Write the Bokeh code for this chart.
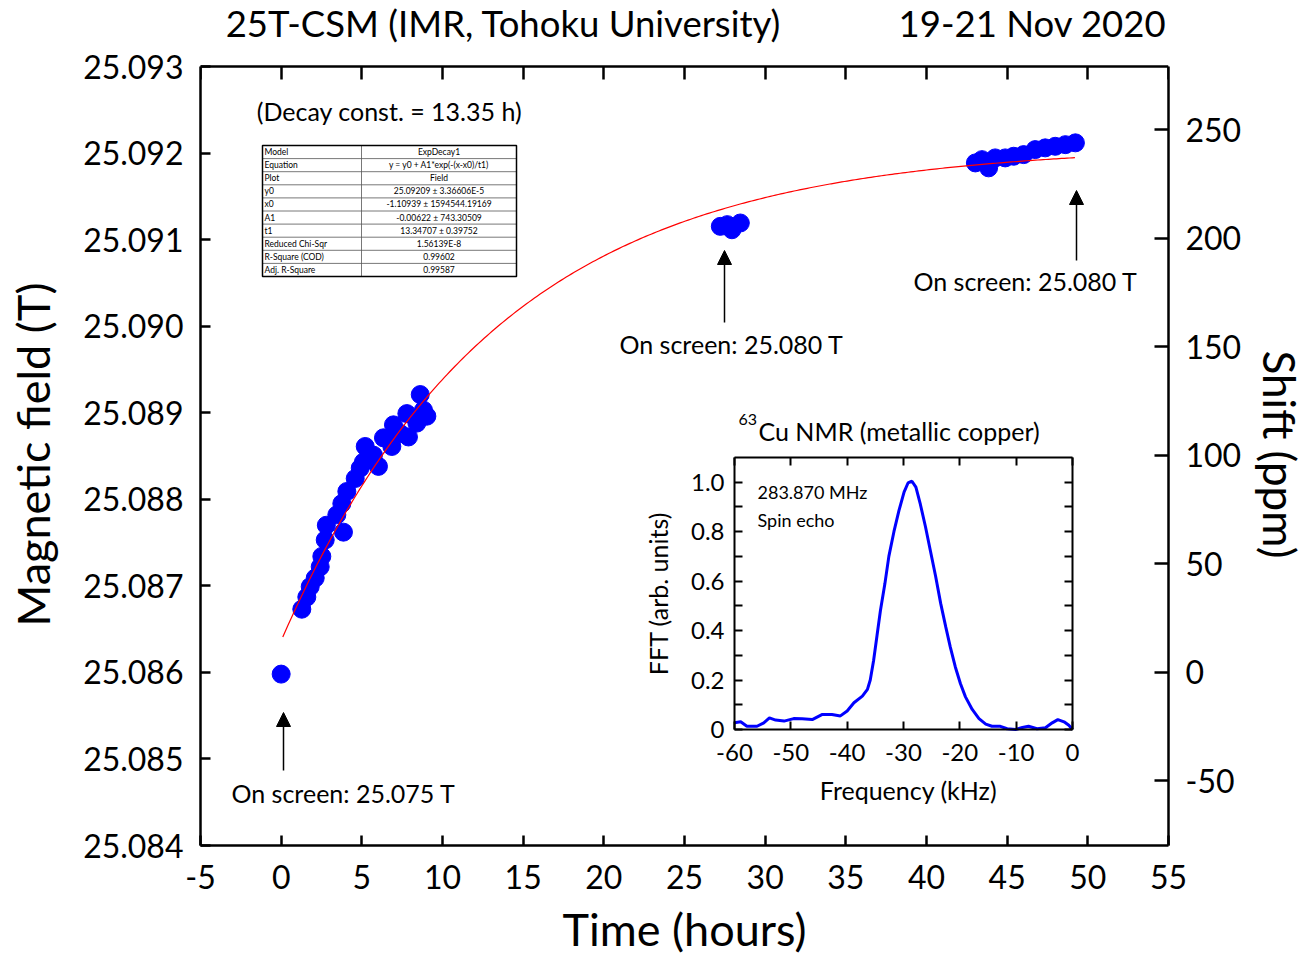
import numpy as np
from bokeh.plotting import figure
from bokeh.layouts import column
from bokeh.models import (Range1d, LinearAxis, FixedTicker, NumeralTickFormatter,
                          Label, Arrow, NormalHead, ColumnDataSource)
from bokeh.core.properties import value
from bokeh.embed import file_html
from bokeh.resources import INLINE

FONT = "Lato"

# ---------------- data ----------------
time_h = [0.0, 1.28, 1.59, 1.80, 2.11, 2.42, 2.52, 2.73, 2.80, 3.45, 3.76, 3.86, 4.07,
          4.59, 4.90, 5.10, 5.21, 5.72, 6.03, 6.34, 6.86, 6.96, 7.38, 7.79, 7.89, 8.41,
          8.62, 8.82, 9.03,
          27.22, 27.65, 27.94, 28.46,
          43.03, 43.44, 43.85, 44.26, 44.88, 45.40, 46.02, 46.74, 47.36, 47.98, 48.61, 49.23]
field_T = [25.08598, 25.08673, 25.08687, 25.08699, 25.08709, 25.08722, 25.08734, 25.08753,
           25.08770, 25.08782, 25.08795, 25.08762, 25.08809, 25.08824, 25.08836, 25.08843,
           25.08861, 25.08851, 25.08838, 25.08871, 25.08861, 25.08886, 25.08876, 25.08899,
           25.08872, 25.08888, 25.08921, 25.08903, 25.08896,
           25.091153, 25.091173, 25.091114, 25.091192,
           25.091886, 25.091924, 25.091829, 25.091944, 25.091944, 25.091963, 25.091982,
           25.092040, 25.092060, 25.092078, 25.092097, 25.092118]

# ExpDecay1 fit parameters (from the fit table)
fit_y0 = 25.09209
fit_x0 = -1.10939
fit_A1 = -0.00622
fit_t1 = 13.34707
fit_t = np.linspace(0.1, 49.2, 300)
fit_B = fit_y0 + fit_A1 * np.exp(-(fit_t - fit_x0) / fit_t1)

freq_khz = [-60.0, -58.9, -57.8, -56.0, -54.8, -53.8, -52.7, -51.2, -49.5, -48.0, -46.2,
            -44.4, -42.7, -41.2, -40.0, -38.8, -37.3, -36.4, -35.9, -35.3, -34.7, -34.1,
            -33.3, -32.6, -31.7, -30.8, -29.9, -29.2, -28.5, -27.8, -27.0, -26.1, -25.2,
            -24.3, -23.4, -22.5, -21.7, -20.8, -19.9, -19.0, -17.8, -16.6, -15.4, -14.3,
            -12.8, -11.6, -10.1, -8.9, -7.8, -6.3, -4.8, -3.6, -2.6, -1.5, -0.65, 0.0]
fft_amp = [0.027, 0.031, 0.013, 0.013, 0.027, 0.047, 0.038, 0.034, 0.044, 0.043, 0.040,
           0.061, 0.061, 0.055, 0.075, 0.108, 0.135, 0.162, 0.20, 0.28, 0.38, 0.48,
           0.59, 0.70, 0.80, 0.886, 0.96, 0.997, 1.004, 0.98, 0.91, 0.82, 0.72,
           0.62, 0.51, 0.415, 0.334, 0.253, 0.186, 0.132, 0.081, 0.044, 0.022, 0.013,
           0.013, 0.003, 0.0, 0.008, 0.013, 0.003, 0.007, 0.027, 0.040, 0.031, 0.017, 0.0]

x_ticks = [-5, 0, 5, 10, 15, 20, 25, 30, 35, 40, 45, 50, 55]
y_ticks = [25.084, 25.085, 25.086, 25.087, 25.088, 25.089, 25.090, 25.091, 25.092, 25.093]
ppm_ticks = [-50, 0, 50, 100, 150, 200, 250]
ppm_ref_T = 25.086
inset_x_ticks = [-60, -50, -40, -30, -20, -10, 0]
inset_y_ticks = [0, 0.2, 0.4, 0.6, 0.8, 1.0]
inset_y_labels = ["0", "0.2", "0.4", "0.6", "0.8", "1.0"]
inset_y_minor = [0.1, 0.3, 0.5, 0.7, 0.9]

title_text = "25T-CSM (IMR, Tohoku University)"
date_text = "19-21 Nov 2020"

table_rows = [("Model", "ExpDecay1"),
              ("Equation", "y = y0 + A1*exp(-(x-x0)/t1)"),
              ("Plot", "Field"),
              ("y0", "25.09209 \u00b1 3.36606E-5"),
              ("x0", "-1.10939 \u00b1 1594544.19169"),
              ("A1", "-0.00622 \u00b1 743.30509"),
              ("t1", "13.34707 \u00b1 0.39752"),
              ("Reduced Chi-Sqr", "1.56139E-8"),
              ("R-Square (COD)", "0.99602"),
              ("Adj. R-Square", "0.99587")]

# ---------------- layout constants (pixels) ----------------
BL, BR = 200, 141   # left / right borders
TOP_H = 45          # title strip height
TOP_B = 18          # main figure border above its frame
TOP_PAD = 3         # frame pixels above the top axis line
FW, FH = 968, 779   # axis box size
XMIN, XMAX = -5, 55
YMIN, YMAX = 25.084, 25.093
# inset box inside axis box (pixels from box left / bottom)
IL, IR, IB, IT = 534, 872, 116, 388
IXMIN, IXMAX, IYMIN, IYMAX = -60.0, 0.0, 0.0, 1.1


def ppm(b):
    return (b - ppm_ref_T) / ppm_ref_T * 1e6


def hy(t):
    return str(t)


ypad = TOP_PAD * (YMAX - YMIN) / FH
sx = (IR - IL) / (IXMAX - IXMIN)
sy = (IT - IB) / (IYMAX - IYMIN)

# ---------------- title strip (page pixel coordinates) ----------------
top = figure(frame_width=FW, frame_height=TOP_H,
             x_range=Range1d(BL, BL + FW), y_range=Range1d(TOP_H, 0),
             x_axis_location=None, y_axis_location=None, output_backend="svg",
             toolbar_location=None, min_border_left=BL, min_border_right=BR,
             min_border_top=0, min_border_bottom=0)
top.xgrid.visible = False
top.ygrid.visible = False
top.outline_line_color = None
top.add_layout(Label(x=503, y=22.5, text=title_text, text_font=FONT,
                     text_font_size="36.5px", text_align="center", text_baseline="middle",
                     text_color="black"))
top.add_layout(Label(x=1166, y=22.5, text=date_text, text_font=FONT,
                     text_font_size="36.5px", text_align="right", text_baseline="middle",
                     text_color="black"))

# ---------------- main plot ----------------
p = figure(frame_width=FW, frame_height=FH + TOP_PAD,
           x_range=Range1d(XMIN, XMAX), y_range=Range1d(YMIN, YMAX + ypad),
           x_axis_location=None, y_axis_location=None,
           output_backend="svg", toolbar_location=None,
           min_border_left=BL, min_border_right=BR, min_border_top=TOP_B,
           min_border_bottom=110)
p.extra_y_ranges = {"ppm": Range1d(ppm(YMIN), ppm(YMAX + ypad)),
                    "iy": Range1d(IYMIN - IB / sy, IYMAX + (FH + TOP_PAD - IT) / sy),
                    "fy": Range1d(0, FH + TOP_PAD)}
p.extra_x_ranges = {"ix": Range1d(IXMIN - IL / sx, IXMAX + (FW - IR) / sx),
                    "fx": Range1d(0, FW)}
p.xgrid.visible = False
p.ygrid.visible = False
p.outline_line_color = None
p.background_fill_color = "white"
p.border_fill_color = "white"


def style(ax, tick_in, lw=2.5, lab="32px", title="45px"):
    ax.axis_line_width = lw
    ax.axis_line_color = "black"
    ax.major_tick_line_width = lw
    ax.major_tick_line_color = "black"
    ax.major_tick_in = tick_in
    ax.major_tick_out = 0
    ax.minor_tick_in = 0
    ax.minor_tick_out = 0
    ax.major_label_text_font = FONT
    ax.major_label_text_font_size = lab
    ax.major_label_text_color = "black"
    ax.axis_label_text_font = FONT
    ax.axis_label_text_font_size = title
    ax.axis_label_text_font_style = "normal"
    ax.axis_label_text_color = "black"


ax_left = LinearAxis(ticker=FixedTicker(ticks=y_ticks), bounds=(YMIN, YMAX),
                     formatter=NumeralTickFormatter(format="0.000"),
                     axis_label="Magnetic field (T)")
style(ax_left, 10)
ax_left.major_label_standoff = 17
ax_left.axis_label_standoff = 20
p.add_layout(ax_left, "left")

ax_bottom = LinearAxis(ticker=FixedTicker(ticks=x_ticks), axis_label="Time (hours)",
                       major_label_overrides={t: hy(t) for t in x_ticks})
style(ax_bottom, 10)
ax_bottom.major_label_standoff = 19
ax_bottom.axis_label_standoff = 10
p.add_layout(ax_bottom, "below")

ax_top = LinearAxis(ticker=FixedTicker(ticks=x_ticks), fixed_location=YMAX,
                    major_label_overrides={t: "" for t in x_ticks})
style(ax_top, 13)
p.add_layout(ax_top, "above")

ax_right = LinearAxis(y_range_name="ppm", ticker=FixedTicker(ticks=ppm_ticks),
                      bounds=(ppm(YMIN), ppm(YMAX)), axis_label="Shift (ppm)",
                      major_label_overrides={t: hy(t) for t in ppm_ticks})
style(ax_right, 14, title="44px")
ax_right.major_label_standoff = 17
ax_right.axis_label_standoff = 10
p.add_layout(ax_right, "right")

# ---------------- inset axes ----------------
in_b = LinearAxis(x_range_name="ix", y_range_name="iy", fixed_location=IYMIN,
                  bounds=(IXMIN, IXMAX), ticker=FixedTicker(ticks=inset_x_ticks),
                  major_label_overrides={t: hy(t) for t in inset_x_ticks})
style(in_b, 8, lw=2, lab="24px")
in_b.major_label_standoff = 14
p.add_layout(in_b, "below")

in_t = LinearAxis(x_range_name="ix", y_range_name="iy", fixed_location=IYMAX,
                  bounds=(IXMIN, IXMAX), ticker=FixedTicker(ticks=inset_x_ticks),
                  major_label_overrides={t: "" for t in inset_x_ticks})
style(in_t, 8, lw=2, lab="24px")
p.add_layout(in_t, "above")

in_l = LinearAxis(x_range_name="ix", y_range_name="iy", fixed_location=IXMIN,
                  bounds=(IYMIN, IYMAX),
                  ticker=FixedTicker(ticks=inset_y_ticks, minor_ticks=inset_y_minor),
                  major_label_overrides=dict(zip(inset_y_ticks, inset_y_labels)))
style(in_l, 8, lw=2, lab="24px")
in_l.minor_tick_in = 8
in_l.minor_tick_line_width = 2
in_l.major_label_standoff = 10
p.add_layout(in_l, "left")

in_r = LinearAxis(x_range_name="ix", y_range_name="iy", fixed_location=IXMAX,
                  bounds=(IYMIN, IYMAX),
                  ticker=FixedTicker(ticks=inset_y_ticks, minor_ticks=inset_y_minor),
                  major_label_overrides={t: "" for t in inset_y_ticks})
style(in_r, 8, lw=2, lab="24px")
in_r.minor_tick_in = 8
in_r.minor_tick_line_width = 2
p.add_layout(in_r, "right")

# ---------------- glyphs ----------------
p.scatter(time_h, field_T, size=18, fill_color="#0000FF", line_color="#0000FF")
p.line(fit_t, fit_B, line_color="#FF0000", line_width=1.2)
p.line(freq_khz, fft_amp, x_range_name="ix", y_range_name="iy",
       line_color="#0000FF", line_width=3)


# ---------------- annotations (axis-box pixel coordinates) ----------------
def lab(x, y, text, size, align="center", baseline="middle", angle=0.0):
    p.add_layout(Label(x=x, y=y, x_range_name="fx", y_range_name="fy", text=text,
                       text_font=FONT, text_font_size=size, text_align=align,
                       text_baseline=baseline, angle=angle, text_color="black"))


lab(189, 735, "(Decay const. = 13.35 h)", "25px")
lab(143, 53, "On screen: 25.075 T", "25px")
lab(531, 502, "On screen: 25.080 T", "25px")
lab(825, 565, "On screen: 25.080 T", "25px")
lab(538, 426, "63", "16px", align="left")
lab(558, 415, "Cu NMR (metallic copper)", "25px", align="left")
lab(557, 354, "283.870 MHz", "18px", align="left")
lab(557, 326, "Spin echo", "18px", align="left")
lab(457, 252, "FFT (arb. units)", "25px", angle=np.pi / 2)
lab(708, 56, "Frequency (kHz)", "25px")

for xs, ys, ye in [(83, 75, 133), (524, 523, 595), (876, 585, 655)]:
    p.add_layout(Arrow(x_start=xs, y_start=ys, x_end=xs, y_end=ye,
                       x_range_name="fx", y_range_name="fy",
                       line_color="black", line_width=1.5,
                       end=NormalHead(size=14, fill_color="black", line_color="black")))

# ---------------- fit table ----------------
TL, TR, TTOP, TBOT, TDIV = 62, 316, 700, 569, 161
nrows = len(table_rows)
rh = (TTOP - TBOT) / nrows
row_y = [TTOP - rh * (i + 1) for i in range(nrows - 1)]
p.segment(x0=[TL] * len(row_y), y0=row_y, x1=[TR] * len(row_y), y1=row_y,
          x_range_name="fx", y_range_name="fy", line_color="#555555", line_width=0.8)
p.segment(x0=[TDIV], y0=[TBOT], x1=[TDIV], y1=[TTOP],
          x_range_name="fx", y_range_name="fy", line_color="#555555", line_width=0.8)
p.quad(left=[TL], right=[TR], bottom=[TBOT], top=[TTOP], fill_color=None,
       line_color="black", line_width=1.5, x_range_name="fx", y_range_name="fy")
centers = [TTOP - rh * (i + 0.5) for i in range(nrows)]
src_l = ColumnDataSource(dict(x=[TL + 2] * nrows, y=centers, t=[r[0] for r in table_rows]))
src_r = ColumnDataSource(dict(x=[(TDIV + TR) / 2] * nrows, y=centers, t=[r[1] for r in table_rows]))
p.text(x="x", y="y", text="t", source=src_l, x_range_name="fx", y_range_name="fy",
       text_font=value(FONT), text_font_size="8.5px", text_align="left",
       text_baseline="middle", text_color="black")
p.text(x="x", y="y", text="t", source=src_r, x_range_name="fx", y_range_name="fy",
       text_font=value(FONT), text_font_size="8.5px", text_align="center",
       text_baseline="middle", text_color="black")

layout = column(top, p, spacing=0)
open("out.html", "w").write(file_html(layout, INLINE))
